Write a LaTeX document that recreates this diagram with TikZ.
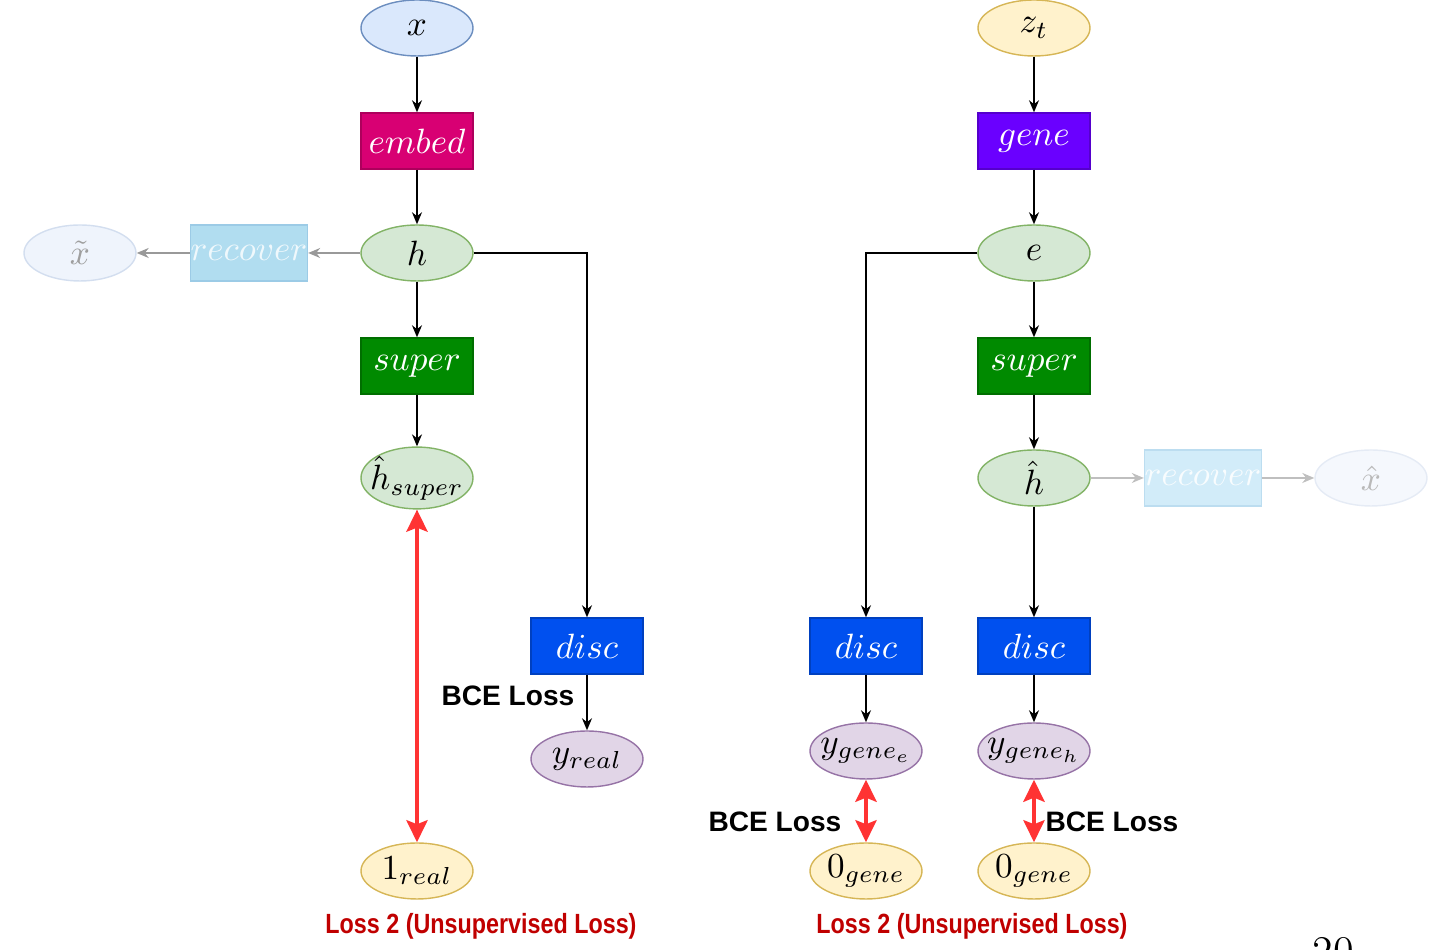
\documentclass[tikz,border=0pt]{standalone}
\usepackage{amsmath,amssymb}
\usepackage{fontspec}
\setsansfont{Liberation Sans}
\newfontfamily\condfont[FakeStretch=0.84]{Liberation Sans}
\usetikzlibrary{shapes.geometric,arrows.meta}

\definecolor{blueF}{HTML}{DAE8FC}
\definecolor{blueD}{HTML}{6C8EBF}
\definecolor{greenF}{HTML}{D5E8D4}
\definecolor{greenD}{HTML}{82B366}
\definecolor{yellowF}{HTML}{FFF2CC}
\definecolor{yellowD}{HTML}{D6B656}
\definecolor{purpleF}{HTML}{E1D5E7}
\definecolor{purpleD}{HTML}{9673A6}
\definecolor{embedC}{HTML}{D80073}
\definecolor{geneC}{HTML}{6A00FF}
\definecolor{superC}{HTML}{008A00}
\definecolor{discC}{HTML}{0050EF}
\definecolor{lossRed}{HTML}{FF3333}
\definecolor{titleRed}{HTML}{C00000}
\definecolor{recFaded}{HTML}{B1DDF0}
\definecolor{recFadedD}{HTML}{9CCBE6}
\definecolor{recPale}{HTML}{D2ECF9}
\definecolor{recPaleD}{HTML}{BCDDF0}
\definecolor{outFaded}{HTML}{EFF4FC}
\definecolor{outFadedD}{HTML}{D3DEEF}

\tikzset{
  var/.style={ellipse, draw, minimum width=1.12cm, minimum height=0.56cm, inner sep=0pt},
  blk/.style={rectangle, draw, minimum width=1.12cm, minimum height=0.56cm, inner sep=0pt, text=white},
  flow/.style={-{Stealth[length=1.2mm,width=1mm]}, line width=0.4pt},
  faded/.style={-{Stealth[length=1.2mm,width=1mm]}, line width=0.4pt, gray!80},
  bce/.style={{Stealth[length=2.2mm,width=2.1mm,inset=0.4mm]}-{Stealth[length=2.2mm,width=2.1mm,inset=0.4mm]}, line width=1.2pt, lossRed},
  bcetext/.style={font=\sffamily\bfseries\fontsize{8}{9}\selectfont},
  losstitle/.style={font=\condfont\bfseries\fontsize{7.9}{9}\selectfont, text=titleRed}
}
\newcommand{\narrowlab}[1]{\makebox[0.6cm]{#1}}

\begin{document}
\begin{tikzpicture}
  \useasboundingbox (0,0) rectangle (14.39,9.5);

  % left: real data path
  \node [var, fill=blueF, draw=blueD] (x) at (4.17, 9.22) {$x$};
  \node [blk, fill=embedC, draw=embedC!80!black] (embed) at (4.17, 8.09) {$embed$};
  \node [var, fill=greenF, draw=greenD] (h) at (4.17, 6.97) {$h$};
  \node [blk, fill=superC, draw=superC!80!black] (superL) at (4.17, 5.84) {$super$};
  \node [var, fill=greenF, draw=greenD] (hsuper) at (4.17, 4.72) {\narrowlab{$\hat{h}_{super}$}};
  \node [var, fill=yellowF, draw=yellowD] (onereal) at (4.17, 0.79) {$1_{real}$};
  \node [blk, fill=recFaded, draw=recFadedD, text=white!80!recFaded] (recL) at (2.49, 6.97) {$recover$};
  \node [var, fill=outFaded, draw=outFadedD, text=gray!75] (xtilde) at (0.80, 6.97) {$\tilde{x}$};
  \node [blk, fill=discC, draw=discC!80!black] (discL) at (5.87, 3.04) {$disc$};
  \node [var, fill=purpleF, draw=purpleD] (yreal) at (5.87, 1.91) {$y_{real}$};

  \draw [flow] (x) -- (embed);
  \draw [flow] (embed) -- (h);
  \draw [flow] (h) -- (superL);
  \draw [flow] (superL) -- (hsuper);
  \draw [faded] (h) -- (recL);
  \draw [faded] (recL) -- (xtilde);
  \draw [flow] (h.east) -| (discL.north);
  \draw [flow] (discL) -- (yreal);
  \draw [bce] (hsuper) -- (onereal);

  \node [bcetext] (bceL) at (5.08, 2.54) {BCE Loss};
  \node [losstitle] (lossL) at (4.81, 0.24) {Loss 2 (Unsupervised Loss)};

  % right: generated path
  \node [var, fill=yellowF, draw=yellowD] (zt) at (10.34, 9.22) {$z_t$};
  \node [blk, fill=geneC, draw=geneC!80!black] (gene) at (10.34, 8.09) {$gene$};
  \node [var, fill=greenF, draw=greenD] (e) at (10.34, 6.97) {$e$};
  \node [blk, fill=superC, draw=superC!80!black] (superR) at (10.34, 5.84) {$super$};
  \node [var, fill=greenF, draw=greenD] (hhat) at (10.34, 4.72) {$\hat{h}$};
  \node [blk, fill=recPale, draw=recPaleD, text=white!85!recPale] (recR) at (12.03, 4.72) {$recover$};
  \node [var, fill=outFaded!60, draw=outFadedD!60, text=gray!55] (xhat) at (13.71, 4.72) {$\hat{x}$};
  \node [blk, fill=discC, draw=discC!80!black] (discE) at (8.66, 3.04) {$disc$};
  \node [blk, fill=discC, draw=discC!80!black] (discH) at (10.34, 3.04) {$disc$};
  \node [var, fill=purpleF, draw=purpleD] (ygeneE) at (8.66, 1.99) {\narrowlab{$y_{gene_e}$}};
  \node [var, fill=purpleF, draw=purpleD] (ygeneH) at (10.34, 1.99) {\narrowlab{$y_{gene_h}$}};
  \node [var, fill=yellowF, draw=yellowD] (zeroE) at (8.66, 0.79) {$0_{gene}$};
  \node [var, fill=yellowF, draw=yellowD] (zeroH) at (10.34, 0.79) {$0_{gene}$};

  \draw [flow] (zt) -- (gene);
  \draw [flow] (gene) -- (e);
  \draw [flow] (e) -- (superR);
  \draw [flow] (superR) -- (hhat);
  \draw [faded, gray!50] (hhat) -- (recR);
  \draw [faded, gray!50] (recR) -- (xhat);
  \draw [flow] (e.west) -| (discE.north);
  \draw [flow] (hhat) -- (discH);
  \draw [flow] (discE) -- (ygeneE);
  \draw [flow] (discH) -- (ygeneH);
  \draw [bce] (ygeneE) -- (zeroE);
  \draw [bce] (ygeneH) -- (zeroH);

  \node [bcetext] (bceE) at (7.75, 1.28) {BCE Loss};
  \node [bcetext] (bceH) at (11.12, 1.28) {BCE Loss};
  \node [losstitle] (lossR) at (9.72, 0.24) {Loss 2 (Unsupervised Loss)};

  \node [font=\fontsize{12}{12}\selectfont] (page) at (13.33, -0.02) {20};
\end{tikzpicture}
\end{document}
